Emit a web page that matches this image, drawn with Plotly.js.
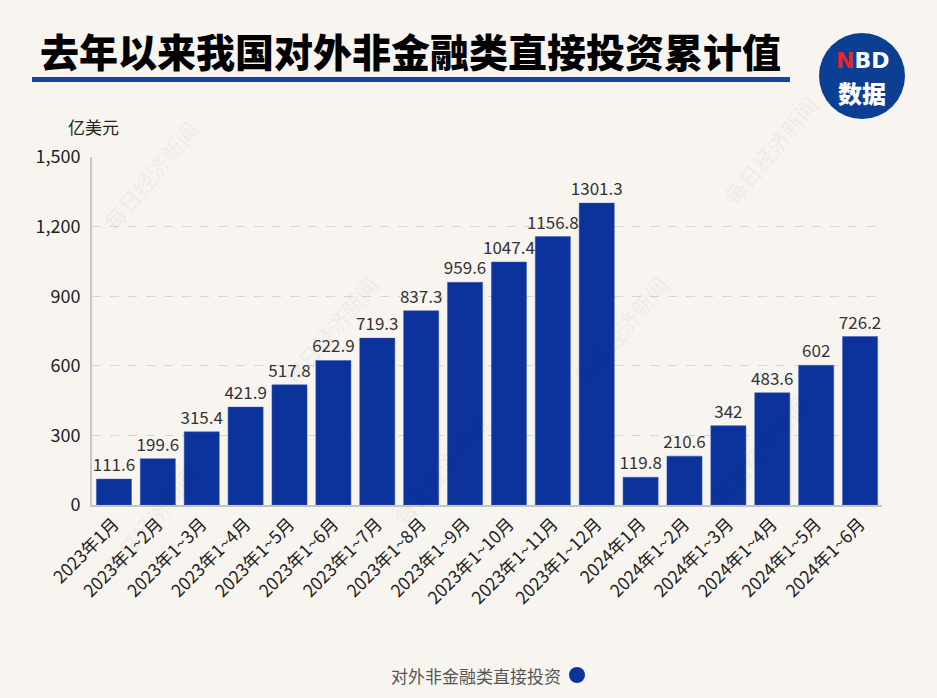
<!DOCTYPE html>
<html>
<head>
<meta charset="utf-8">
<script src="https://cdn.plot.ly/plotly-3.0.1.min.js"></script>
<style>
html,body{margin:0;padding:0;background:#f8f5f1;}
#chart{width:937px;height:698px;}
</style>
</head>
<body>
<div id="chart"></div>
<script>
const categories = ["2023年1月","2023年1~2月","2023年1~3月","2023年1~4月","2023年1~5月","2023年1~6月","2023年1~7月","2023年1~8月","2023年1~9月","2023年1~10月","2023年1~11月","2023年1~12月","2024年1月","2024年1~2月","2024年1~3月","2024年1~4月","2024年1~5月","2024年1~6月"];
const values = [111.6,199.6,315.4,421.9,517.8,622.9,719.3,837.3,959.6,1047.4,1156.8,1301.3,119.8,210.6,342,483.6,602,726.2];
const tickValues = [0,300,600,900,1200,1500];
const seriesName = "对外非金融类直接投资";
const titleText = "去年以来我国对外非金融类直接投资累计值";
const unitText = "亿美元";

const FONT = '"Noto Sans CJK SC", "Noto Sans", sans-serif';
const BLUE = '#0c339b';

const trace = {
  type: 'bar',
  x: categories,
  y: values,
  name: seriesName,
  text: values.map(v => String(v)),
  textposition: 'outside',
  constraintext: 'none',
  cliponaxis: false,
  textfont: {family: FONT, size: 17, color: '#333'},
  marker: {color: BLUE, line: {color: '#3a5bb0', width: 0.5}},
  hoverinfo: 'x+y'
};

const W = 937, H = 698, L = 92, R = 55, T = 157, B = 193;
const pw = W - L - R, ph = H - T - B;
const px = x => (x - L) / pw;
const py = y => (H - B - y) / ph;

const marks = [[150,175],[770,150],[440,470],[760,450],[150,520],[330,330],[620,330]];
const annotations = marks.map(([x,y]) => ({
  xref: 'paper', yref: 'paper', x: px(x), y: py(y), xanchor: 'center', yanchor: 'middle',
  text: '每日经济新闻', showarrow: false, textangle: -50,
  font: {family: FONT, size: 22, color: 'rgba(0,0,0,0.04)', weight: 700}
}));

annotations.push(
  {xref:'paper', yref:'paper', x: px(93), y: py(127), xanchor:'center', yanchor:'middle', text: unitText, showarrow:false,
   font:{family:FONT, size:17, color:'#222'}},
  {xref:'paper', yref:'paper', x: px(563), y: py(675), xanchor:'right', yanchor:'middle', text: seriesName, showarrow:false,
   font:{family:FONT, size:17, color:'#555'}},
  {xref:'paper', yref:'paper', x: px(862), y: py(60), xanchor:'center', yanchor:'middle', text: '<span style="color:#e8262b">N</span>BD', showarrow:false,
   font:{family:'"DejaVu Sans", sans-serif', size:22, color:'#ffffff', weight:700}},
  {xref:'paper', yref:'paper', x: px(862), y: py(92), xanchor:'center', yanchor:'middle', text: '数据', showarrow:false,
   font:{family:FONT, size:24, color:'#ffffff', weight:900}}
);

const shapes = [
  {type:'rect', xref:'paper', yref:'paper', x0: px(32), x1: px(790), y0: py(82), y1: py(77),
   fillcolor:'#0e48a0', line:{width:0}},
  {type:'circle', xref:'paper', yref:'paper', x0: px(819), x1: px(905), y0: py(119), y1: py(33),
   fillcolor:'#0b3f93', line:{width:0}},
  {type:'circle', xref:'paper', yref:'paper', x0: px(569), x1: px(585), y0: py(683), y1: py(667),
   fillcolor:BLUE, line:{width:0}}
];

const layout = {
  width: W, height: H,
  paper_bgcolor: '#f8f5f1', plot_bgcolor: '#f8f5f1',
  margin: {l: L, r: R, t: T, b: B, pad: 0},
  showlegend: false,
  bargap: 0.2,
  title: {
    text: titleText, xref: 'container', yref: 'container',
    x: 40/W, xanchor: 'left', y: 1 - 53/H, yanchor: 'middle',
    font: {family: FONT, size: 39, color: '#000', weight: 900}
  },
  xaxis: {
    type: 'category', tickangle: -45,
    tickfont: {family: FONT, size: 17.5, color: '#222'},
    showline: true, linecolor: '#c4c4c4', linewidth: 2,
    ticks: '', showgrid: false, automargin: false
  },
  yaxis: {
    range: [0, 1500], tickvals: tickValues, tickformat: ',d',
    tickfont: {family: FONT, size: 18, color: '#222'},
    showline: true, linecolor: '#c8c8c8', linewidth: 2,
    gridcolor: '#d9d6d2', griddash: 'dash', gridwidth: 1,
    zeroline: false, ticks: 'outside', ticklen: 6, tickcolor: 'rgba(0,0,0,0)',
    automargin: false
  },
  annotations: annotations,
  shapes: shapes
};

Plotly.newPlot('chart', [trace], layout, {displayModeBar: false, staticPlot: true});
</script>
</body>
</html>
